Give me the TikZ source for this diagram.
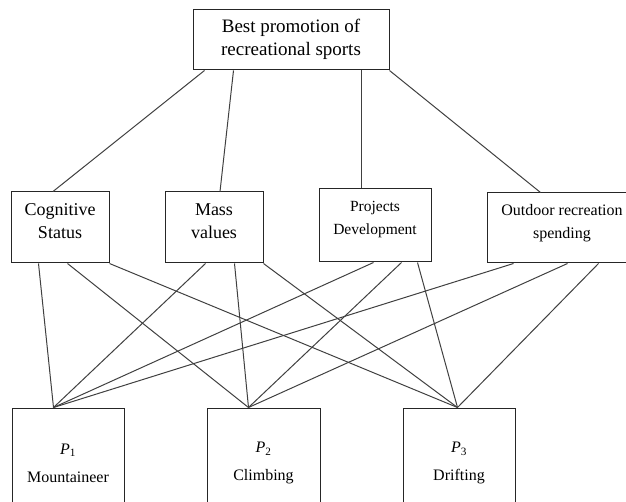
\documentclass[tikz,border=0pt]{standalone}
\usepackage{fontspec}
\setmainfont{Liberation Serif}
\usetikzlibrary{positioning}

\tikzset{
  box/.style={draw=black!85, line width=1pt, rectangle, align=center, inner sep=0pt},
  link/.style={draw=black!75, line width=1pt}
}

\begin{document}
\begin{tikzpicture}[x=1pt, y=-1pt]
  \useasboundingbox (0,0) rectangle (626,502);

  % goal
  \node[box, minimum width=196pt, minimum height=60pt, text depth=6pt,
        font=\fontsize{19}{23}\selectfont] (goal) at (291,40)
        {Best promotion of\\recreational sports};

  % criteria
  \node[box, minimum width=98pt, minimum height=71pt, text depth=12pt,
        font=\fontsize{18}{23}\selectfont] (cog) at (60,227.5) {Cognitive\\Status};
  \node[box, minimum width=98pt, minimum height=71pt, text depth=12pt,
        font=\fontsize{18}{23}\selectfont] (mass) at (214,227.5) {Mass\\values};
  \node[box, minimum width=112pt, minimum height=73pt, text depth=16pt,
        font=\fontsize{15.5}{23}\selectfont] (proj) at (375,225.5) {Projects\\Development};
  \node[box, minimum width=150pt, minimum height=70pt, text depth=14pt,
        font=\fontsize{16}{23}\selectfont] (out) at (562,228) {Outdoor recreation\\spending};

  % alternatives
  \node[box, minimum width=112pt, minimum height=110pt,
        font=\fontsize{16}{19}\selectfont] (p1) at (68,463) {\textit{P}\textsubscript{1}\\[9pt]Mountaineer};
  \node[box, minimum width=113pt, minimum height=110pt,
        font=\fontsize{16}{19}\selectfont] (p2) at (263.5,463) {\textit{P}\textsubscript{2}\\[9pt]Climbing};
  \node[box, minimum width=112pt, minimum height=110pt,
        font=\fontsize{16}{19}\selectfont] (p3) at (459,463) {\textit{P}\textsubscript{3}\\[9pt]Drifting};

  \coordinate (p1in) at ([xshift=42pt]p1.north west);
  \coordinate (p2in) at ([xshift=42pt]p2.north west);
  \coordinate (p3in) at ([xshift=55pt]p3.north west);

  % goal to criteria
  \draw[link] ([xshift=12pt]goal.south west) -- ([xshift=-7pt]cog.north);
  \draw[link] ([xshift=41pt]goal.south west) -- ([xshift=6pt]mass.north);
  \draw[link] ([xshift=70pt]goal.south) -- ([xshift=-14pt]proj.north);
  \draw[link] (goal.south east) -- ([xshift=54pt]out.north west);

  % criteria to alternatives
  \draw[link] ([xshift=28pt]cog.south west) -- (p1in);
  \draw[link] ([xshift=57pt]cog.south west) -- (p2in);
  \draw[link] (cog.south east) -- (p3in);

  \draw[link] ([xshift=41pt]mass.south west) -- (p1in);
  \draw[link] ([xshift=70pt]mass.south west) -- (p2in);
  \draw[link] (mass.south east) -- (p3in);

  \draw[link] ([xshift=55pt]proj.south west) -- (p1in);
  \draw[link] ([xshift=83pt]proj.south west) -- (p2in);
  \draw[link] ([xshift=99pt]proj.south west) -- (p3in);

  \draw[link] ([xshift=27pt]out.south west) -- (p1in);
  \draw[link] ([xshift=81pt]out.south west) -- (p2in);
  \draw[link] ([xshift=112pt]out.south west) -- (p3in);
\end{tikzpicture}
\end{document}
